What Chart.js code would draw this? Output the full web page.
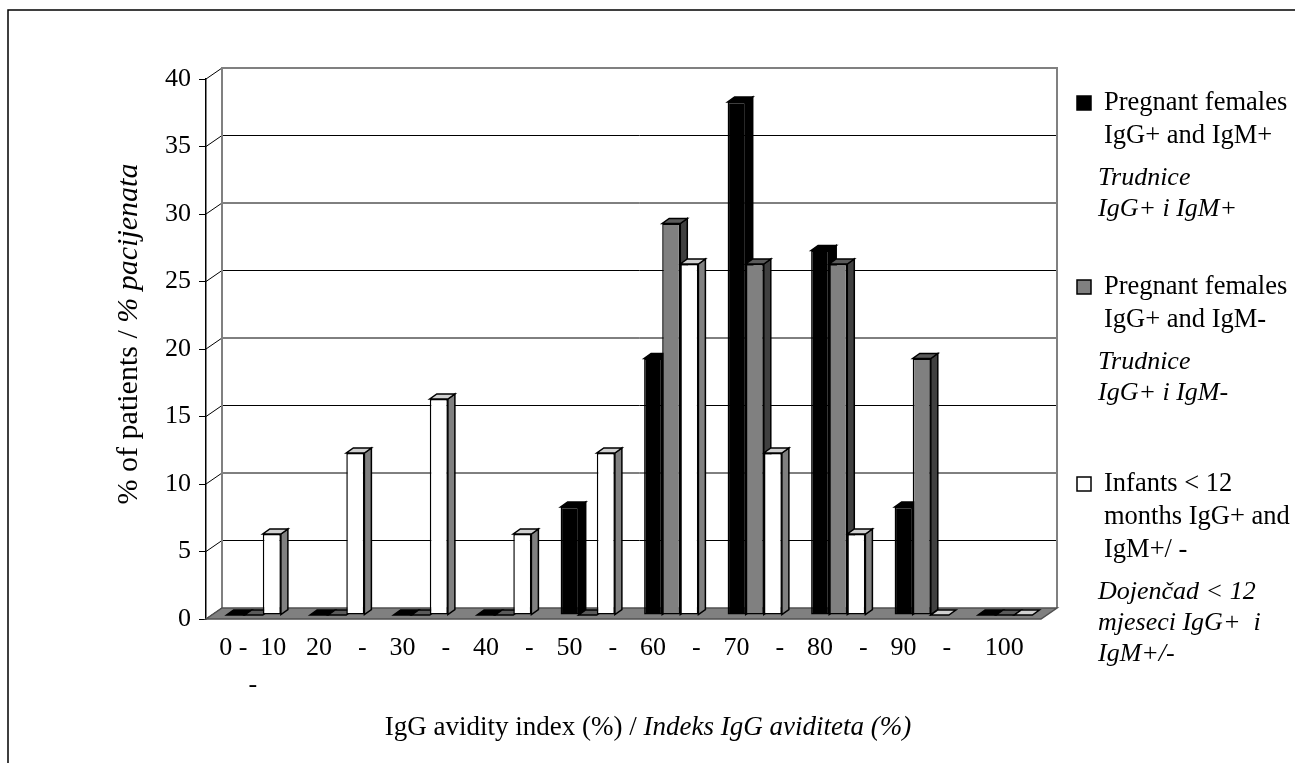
<!DOCTYPE html>
<html>
<head>
<meta charset="utf-8">
<script src="https://cdn.jsdelivr.net/npm/chart.js@4/dist/chart.umd.min.js"></script>
<style>
  html, body { margin: 0; padding: 0; background: #fff; }
  canvas { display: block; }
</style>
</head>
<body>
<canvas id="avidity" width="1295" height="763"></canvas>
<script>
// kategorije (x os) - tekst kako je u originalu
var categories = [["0 -  10", "-"], "20    -", "30    -", "40    -", "50    -", "60    -", "70    -", "80    -", "90    -", "100"];

// % pacijenata po seriji
var pregnantIgMpos = [0, 0, 0, 0, 8, 19, 38, 27, 8, 0];
var pregnantIgMneg = [0, 0, 0, 0, 0, 29, 26, 26, 19, 0];
var infants        = [6, 12, 16, 6, 12, 26, 12, 6, 0, 0];

var yTicks = [0, 5, 10, 15, 20, 25, 30, 35, 40];

// legenda: engleski i hrvatski redovi
var legendEn = [
    ["Pregnant females", "IgG+ and IgM+"],
    ["Pregnant females", "IgG+ and IgM-"],
    ["Infants < 12", "months IgG+ and", "IgM+/ -"]
];
var legendHr = [
    ["Trudnice", "IgG+ i IgM+"],
    ["Trudnice", "IgG+ i IgM-"],
    ["Dojenčad < 12", "mjeseci IgG+  i", "IgM+/-"]
];

var serif = '"Liberation Serif", "Times New Roman", serif';

// boje lica 3D stupaca: prednje, gornje, bočno
var faces = [
    { front: '#000000', top: '#000000', side: '#000000' },
    { front: '#808080', top: '#5a5a5a', side: '#404040' },
    { front: '#ffffff', top: '#d0d0d0', side: '#808080' }
];

// pomaci za dubinu
var WALL_DX = 16, WALL_DY = -11;   // stražnji zid
var BAR_DX = 6, BAR_DY = -4;       // ravnina stupaca
var DEPTH_DX = 7, DEPTH_DY = -5;   // dubina stupca

function poly(ctx, pts, fill, stroke, lw) {
    ctx.beginPath();
    ctx.moveTo(pts[0][0], pts[0][1]);
    for (var i = 1; i < pts.length; i++) ctx.lineTo(pts[i][0], pts[i][1]);
    ctx.closePath();
    if (fill) { ctx.fillStyle = fill; ctx.fill(); }
    if (stroke) { ctx.strokeStyle = stroke; ctx.lineWidth = lw || 1; ctx.stroke(); }
}

// tekst u dva stila (obični + kurziv), centriran oko (0,0)
function twoStyle(ctx, a, b, size) {
    ctx.font = size + 'px ' + serif;
    var wA = ctx.measureText(a).width;
    ctx.font = 'italic ' + size + 'px ' + serif;
    var wB = ctx.measureText(b).width;
    var sx = -(wA + wB) / 2;
    ctx.textAlign = 'left';
    ctx.font = size + 'px ' + serif;
    ctx.fillText(a, sx, 0);
    ctx.font = 'italic ' + size + 'px ' + serif;
    ctx.fillText(b, sx + wA, 0);
}

var box3d = {
    id: 'box3d',
    beforeDraw: function(chart) {
        var ctx = chart.ctx;
        ctx.save();
        // okvir
        ctx.strokeStyle = '#000';
        ctx.lineWidth = 1.5;
        ctx.beginPath();
        ctx.moveTo(1295, 10);
        ctx.lineTo(8, 10);
        ctx.lineTo(8, 763);
        ctx.stroke();
        ctx.restore();
    },
    beforeDatasetsDraw: function(chart) {
        var ctx = chart.ctx;
        var a = chart.chartArea;
        var y = chart.scales.y;
        var L = a.left, R = a.right, T = a.top, B = a.bottom;
        ctx.save();
        // linije mreže na stražnjem zidu + kose crtice od osi
        ctx.lineWidth = 1;
        ctx.strokeStyle = '#000';
        yTicks.forEach(function(v) {
            var py = y.getPixelForValue(v);
            ctx.beginPath();
            ctx.moveTo(L, py);
            ctx.lineTo(L + WALL_DX, py + WALL_DY);
            if (v > 0 && v < 40) ctx.lineTo(R + WALL_DX, py + WALL_DY);
            ctx.stroke();
        });
        // stražnji zid
        ctx.strokeStyle = '#808080';
        ctx.lineWidth = 2;
        ctx.beginPath();
        ctx.moveTo(L + WALL_DX, B + WALL_DY);
        ctx.lineTo(L + WALL_DX, T + WALL_DY);
        ctx.lineTo(R + WALL_DX, T + WALL_DY);
        ctx.lineTo(R + WALL_DX, B + WALL_DY);
        ctx.stroke();
        // pod
        poly(ctx, [[L, B], [R, B], [R + WALL_DX, B + WALL_DY], [L + WALL_DX, B + WALL_DY]], '#808080', '#505050', 1.5);
        ctx.restore();

        // ravnina stupaca
        ctx.save();
        ctx.translate(BAR_DX, BAR_DY);
        chart.data.datasets.forEach(function(ds, di) {
            var meta = chart.getDatasetMeta(di);
            var f = faces[di];
            meta.data.forEach(function(bar) {
                var p = bar.getProps(['x', 'y', 'base', 'width'], true);
                var l = p.x - p.width / 2, r = p.x + p.width / 2;
                var top = Math.min(p.y, p.base), bot = Math.max(p.y, p.base);
                // bočna strana
                if (bot - top > 0.5) {
                    poly(ctx, [[r, top], [r + DEPTH_DX, top + DEPTH_DY], [r + DEPTH_DX, bot + DEPTH_DY], [r, bot]], f.side, '#000', 1.5);
                }
                // gornja strana
                poly(ctx, [[l, top], [r, top], [r + DEPTH_DX, top + DEPTH_DY], [l + DEPTH_DX, top + DEPTH_DY]], f.top, '#000', 1.5);
            });
        });
    },
    afterDatasetsDraw: function(chart) {
        chart.ctx.restore();
    },
    afterDraw: function(chart) {
        var ctx = chart.ctx;

        // naslov y osi
        ctx.save();
        ctx.fillStyle = '#000';
        ctx.textBaseline = 'middle';
        ctx.translate(129, 334);
        ctx.rotate(-Math.PI / 2);
        twoStyle(ctx, '% of patients / ', '% pacijenata', 30);
        ctx.restore();

        // naslov x osi
        ctx.save();
        ctx.fillStyle = '#000';
        ctx.textBaseline = 'middle';
        ctx.translate(648, 728);
        twoStyle(ctx, 'IgG avidity index (%) / ', 'Indeks IgG aviditeta (%)', 27);
        ctx.restore();

        // legenda
        ctx.save();
        ctx.textBaseline = 'middle';
        ctx.textAlign = 'left';
        var entryY = [103, 287, 484];
        chart.data.datasets.forEach(function(ds, i) {
            var yy = entryY[i];
            ctx.fillStyle = ds.backgroundColor;
            ctx.fillRect(1077, yy - 7, 14, 14);
            ctx.strokeStyle = '#000';
            ctx.lineWidth = 1.5;
            ctx.strokeRect(1077, yy - 7, 14, 14);
            ctx.fillStyle = '#000';
            ctx.font = '26.5px ' + serif;
            legendEn[i].forEach(function(line, k) {
                ctx.fillText(line, 1104, yy + k * 33);
            });
            var hy = yy + (legendEn[i].length - 1) * 33 + 42;
            ctx.font = 'italic 26px ' + serif;
            legendHr[i].forEach(function(line, k) {
                ctx.fillText(line, 1098, hy + k * 31);
            });
        });
        ctx.restore();
    }
};

var ctx = document.getElementById('avidity').getContext('2d');
var avidityChart = new Chart(ctx, {
    type: 'bar',
    data: {
        labels: categories,
        datasets: [
            {
                label: 'Pregnant females IgG+ and IgM+',
                data: pregnantIgMpos,
                backgroundColor: faces[0].front,
                borderColor: '#000',
                borderWidth: 1.5,
                borderSkipped: false
            },
            {
                label: 'Pregnant females IgG+ and IgM-',
                data: pregnantIgMneg,
                backgroundColor: faces[1].front,
                borderColor: '#000',
                borderWidth: 1.5,
                borderSkipped: false
            },
            {
                label: 'Infants < 12 months IgG+ and IgM+/-',
                data: infants,
                backgroundColor: faces[2].front,
                borderColor: '#000',
                borderWidth: 1.5,
                borderSkipped: false
            }
        ]
    },
    options: {
        responsive: false,
        animation: false,
        devicePixelRatio: 1,
        layout: {
            padding: { left: 0, top: 79, right: 254, bottom: 0 }
        },
        datasets: {
            bar: {
                categoryPercentage: 0.65,
                barPercentage: 1.0
            }
        },
        plugins: {
            legend: { display: false },
            title: { display: false },
            tooltip: { enabled: false }
        },
        scales: {
            x: {
                grid: { display: false, drawTicks: false },
                border: { display: false },
                afterFit: function(s) { s.height = 144; },
                ticks: {
                    color: '#000',
                    font: { family: serif, size: 26, lineHeight: 1.42 },
                    padding: 11,
                    labelOffset: 5,
                    maxRotation: 0,
                    autoSkip: false
                }
            },
            y: {
                min: 0,
                max: 40,
                afterFit: function(s) { s.width = 206; },
                border: { display: true, color: '#000', width: 1.5 },
                grid: {
                    drawOnChartArea: false,
                    drawTicks: true,
                    tickLength: 7,
                    color: '#000'
                },
                ticks: {
                    stepSize: 5,
                    color: '#000',
                    font: { family: serif, size: 26 },
                    padding: 8
                }
            }
        }
    },
    plugins: [box3d]
});
</script>
</body>
</html>
